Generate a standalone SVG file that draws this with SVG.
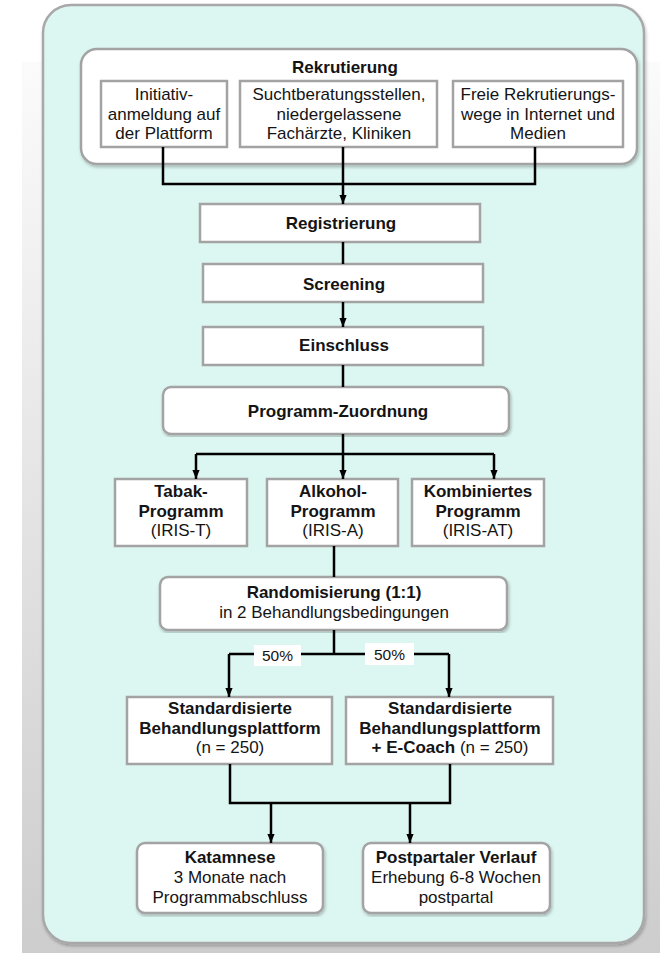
<svg xmlns="http://www.w3.org/2000/svg" width="660" height="953" viewBox="0 0 660 953">
<defs>
<linearGradient id="bg" x1="0" y1="0" x2="0" y2="1">
<stop offset="0" stop-color="#fbfbfb"/>
<stop offset="1" stop-color="#cdcdcd"/>
</linearGradient>
<filter id="sh" x="-5%" y="-5%" width="110%" height="110%">
<feDropShadow dx="1" dy="2" stdDeviation="1.5" flood-color="#000" flood-opacity="0.25"/>
</filter>
<marker id="ah" viewBox="0 0 10 10" refX="10" refY="5" markerWidth="9" markerHeight="9" markerUnits="userSpaceOnUse" orient="auto">
<path d="M0,1 L10,5 L0,9 z" fill="#000"/>
</marker>
</defs>
<style>
text{font-family:"Liberation Sans",Arial,sans-serif;font-size:17px;fill:#141414;text-anchor:middle}
.b{font-weight:bold}
.box{fill:#fff;stroke:#a3a3a3;stroke-width:2.5}
.rbox{fill:#fff;stroke:#a3a3a3;stroke-width:2.5}
.con{fill:none;stroke:#000;stroke-width:2.5}
.pct{font-size:15.5px}
</style>
<rect x="0" y="0" width="660" height="953" fill="#fff"/>
<rect x="22" y="62" width="638" height="891" fill="url(#bg)"/>
<rect id="frame" x="43" y="5" width="601" height="938" rx="28" fill="#dcf6f1" stroke="#a8a8a8" stroke-width="2.5" filter="url(#sh)"/>

<g id="rekrutierung">
<rect class="rbox" x="81" y="49" width="556" height="115" rx="16" filter="url(#sh)"/>
<text class="b" x="345" y="73">Rekrutierung</text>
</g>
<g id="initiativ">
<rect class="box" x="101" y="81" width="126" height="66"/>
<text x="164" y="100">Initiativ-</text>
<text x="164" y="120">anmeldung auf</text>
<text x="164" y="139">der Plattform</text>
</g>
<g id="sucht">
<rect class="box" x="240" y="81" width="197" height="66"/>
<text x="339" y="100">Suchtberatungsstellen,</text>
<text x="339" y="120">niedergelassene</text>
<text x="339" y="139">Fachärzte, Kliniken</text>
</g>
<g id="freie">
<rect class="box" x="453" y="81" width="170" height="66"/>
<text x="538" y="100">Freie Rekrutierungs-</text>
<text x="538" y="120">wege in Internet und</text>
<text x="538" y="139">Medien</text>
</g>

<g id="registrierung">
<rect class="box" x="200" y="204" width="280" height="38"/>
<text class="b" x="341" y="229">Registrierung</text>
</g>
<g id="screening">
<rect class="box" x="203" y="264" width="280" height="38"/>
<text class="b" x="344" y="290">Screening</text>
</g>
<g id="einschluss">
<rect class="box" x="203" y="327" width="280" height="38"/>
<text class="b" x="344" y="351">Einschluss</text>
</g>
<g id="zuordnung">
<rect class="rbox" x="163" y="387" width="346" height="47" rx="8" filter="url(#sh)"/>
<text class="b" x="338" y="417">Programm-Zuordnung</text>
</g>

<g id="tabak">
<rect class="box" x="115" y="479" width="132" height="67"/>
<text class="b" x="181" y="497">Tabak-</text>
<text class="b" x="181" y="517">Programm</text>
<text x="181" y="536">(IRIS-T)</text>
</g>
<g id="alkohol">
<rect class="box" x="267" y="479" width="131" height="67"/>
<text class="b" x="333" y="497">Alkohol-</text>
<text class="b" x="333" y="517">Programm</text>
<text x="333" y="536">(IRIS-A)</text>
</g>
<g id="kombiniert">
<rect class="box" x="412" y="479" width="132" height="67"/>
<text class="b" x="478" y="497">Kombiniertes</text>
<text class="b" x="478" y="517">Programm</text>
<text x="478" y="536">(IRIS-AT)</text>
</g>

<g id="randomisierung">
<rect class="rbox" x="160" y="577" width="347" height="53" rx="8" filter="url(#sh)"/>
<text class="b" x="334" y="598">Randomisierung (1:1)</text>
<text x="334" y="618">in 2 Behandlungsbedingungen</text>
</g>

<g id="standard">
<rect class="box" x="127" y="697" width="205" height="67"/>
<text class="b" x="230" y="714">Standardisierte</text>
<text class="b" x="230" y="734">Behandlungsplattform</text>
<text x="230" y="753">(n = 250)</text>
</g>
<g id="ecoach">
<rect class="box" x="346" y="697" width="207" height="67"/>
<text class="b" x="450" y="714">Standardisierte</text>
<text class="b" x="450" y="734">Behandlungsplattform</text>
<text x="450" y="753"><tspan class="b">+ E-Coach</tspan> (n = 250)</text>
</g>

<g id="katamnese">
<rect class="rbox" x="137" y="843" width="186" height="70" rx="8" filter="url(#sh)"/>
<text class="b" x="230" y="863">Katamnese</text>
<text x="230" y="883">3 Monate nach</text>
<text x="230" y="903">Programmabschluss</text>
</g>
<g id="postpartal">
<rect class="rbox" x="363" y="843" width="187" height="70" rx="8" filter="url(#sh)"/>
<text class="b" x="456" y="863">Postpartaler Verlauf</text>
<text x="456" y="883">Erhebung 6-8 Wochen</text>
<text x="456" y="903">postpartal</text>
</g>

<g id="connectors">
<path class="con" d="M163,147 V184 H535 V147"/>
<path class="con" d="M343,147 V204" marker-end="url(#ah)"/>
<path class="con" d="M343,242 V264"/>
<path class="con" d="M343,302 V327" marker-end="url(#ah)"/>
<path class="con" d="M343,365 V387"/>
<path class="con" d="M343,434 V454 M196,454 H494"/>
<path class="con" d="M196,454 V479" marker-end="url(#ah)"/>
<path class="con" d="M343,454 V479" marker-end="url(#ah)"/>
<path class="con" d="M494,454 V479" marker-end="url(#ah)"/>
<path class="con" d="M334,546 V577"/>
<path class="con" d="M334,630 V654 M229,654 H449"/>
<path class="con" d="M229,654 V697" marker-end="url(#ah)"/>
<path class="con" d="M449,654 V697" marker-end="url(#ah)"/>
<path class="con" d="M230,764 V803 H450 V764"/>
<path class="con" d="M271,803 V843" marker-end="url(#ah)"/>
<path class="con" d="M410,803 V843" marker-end="url(#ah)"/>
<g id="label-left">
<rect x="254" y="645" width="47" height="21" fill="#fff"/>
<text class="pct" x="277.5" y="661">50%</text>
</g>
<g id="label-right">
<rect x="365" y="643" width="49" height="22" fill="#fff"/>
<text class="pct" x="389.5" y="660">50%</text>
</g>
</g>
</svg>
